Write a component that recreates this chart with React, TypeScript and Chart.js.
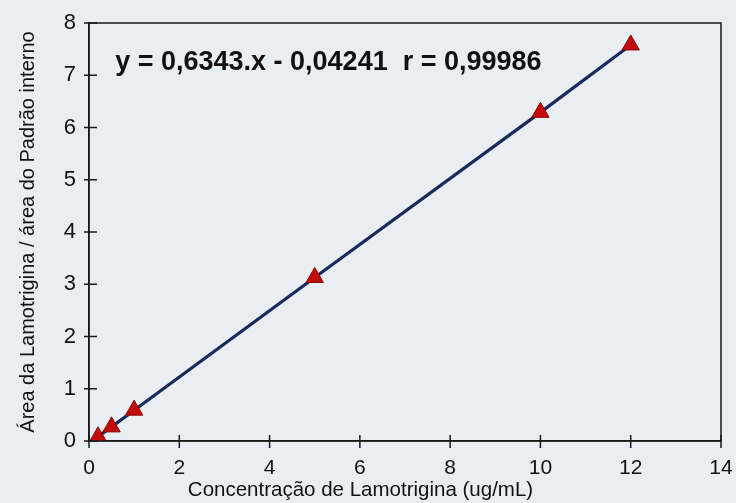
import React, { useEffect, useRef } from "react";
import { Chart, registerables } from "chart.js";

Chart.register(...registerables);

const concentrations = [0.2, 0.5, 1, 5, 10, 12];
const areaRatios = [0.08, 0.27, 0.59, 3.13, 6.29, 7.58];
const equationText = "y = 0,6343.x - 0,04241  r = 0,99986";
const xTitle = "Concentração de Lamotrigina (ug/mL)";
const yTitle = "Área da Lamotrigina / área do Padrão interno";

const FONT = "'Liberation Sans', Arial, sans-serif";
const BG = "#e9eef2";

const framePlugin = {
  id: "frame",
  beforeDraw(chart: any) {
    const { ctx, width, height } = chart;
    ctx.save();
    ctx.fillStyle = BG;
    ctx.fillRect(0, 0, width, height);
    ctx.restore();
  },
  afterDraw(chart: any) {
    const { ctx, chartArea } = chart;
    const xs = chart.scales.x;
    const ys = chart.scales.y;
    ctx.save();
    ctx.strokeStyle = "#1a1a1a";
    ctx.lineWidth = 1.5;
    ctx.strokeRect(chartArea.left, chartArea.top, chartArea.right - chartArea.left, chartArea.bottom - chartArea.top);
    ctx.beginPath();
    xs.ticks.forEach((t: any) => {
      const px = xs.getPixelForValue(t.value);
      ctx.moveTo(px, chartArea.bottom - 6);
      ctx.lineTo(px, chartArea.bottom + 7);
    });
    ys.ticks.forEach((t: any) => {
      const py = ys.getPixelForValue(t.value);
      ctx.moveTo(chartArea.left - 5, py);
      ctx.lineTo(chartArea.left + 8, py);
    });
    ctx.stroke();
    ctx.fillStyle = "#111";
    ctx.font = `bold 27px ${FONT}`;
    ctx.textBaseline = "middle";
    ctx.textAlign = "left";
    ctx.fillText(equationText, xs.getPixelForValue(0.58), ys.getPixelForValue(7.25));
    ctx.restore();
  },
};

export default function App() {
  const ref = useRef<HTMLCanvasElement | null>(null);
  useEffect(() => {
    if (!ref.current) return;
    const chart = new Chart(ref.current, {
      type: "scatter",
      data: {
        datasets: [
          {
            data: concentrations.map((c, i) => ({ x: c, y: areaRatios[i] })),
            showLine: true,
            borderColor: "#1b2a5c",
            borderWidth: 3.2,
            pointStyle: "triangle",
            pointRadius: 10,
            pointBackgroundColor: "#c30a0a",
            pointBorderColor: "#8c0808",
            pointBorderWidth: 1,
          },
        ],
      },
      options: {
        responsive: false,
        animation: false,
        layout: { padding: { left: 0, right: 15, top: 23, bottom: 0 } },
        plugins: {
          legend: { display: false },
          tooltip: { enabled: false },
          title: {
            display: true,
            position: "bottom",
            text: xTitle,
            color: "#111",
            font: { family: FONT, size: 20.5, weight: "normal" },
            padding: { top: 0, bottom: 0 },
          },
        },
        scales: {
          x: {
            type: "linear",
            min: 0,
            max: 14,
            afterFit: (s: any) => {
              s.height = 37.4;
              s.paddingRight = 0;
              s.paddingLeft = 0;
            },
            ticks: { stepSize: 2, color: "#111", font: { family: FONT, size: 21 }, padding: 15 },
            grid: { display: true, drawOnChartArea: false, drawTicks: false },
            border: { display: true, color: "#1a1a1a", width: 1.5 },
          },
          y: {
            type: "linear",
            min: 0,
            max: 8,
            afterFit: (s: any) => {
              s.width = 89;
              s.paddingTop = 0;
              s.paddingBottom = 0;
            },
            ticks: { stepSize: 1, color: "#111", font: { family: FONT, size: 22 }, padding: 13 },
            grid: { display: true, drawOnChartArea: false, drawTicks: false },
            border: { display: true, color: "#1a1a1a", width: 1.5 },
            title: {
              display: true,
              text: yTitle,
              color: "#111",
              font: { family: FONT, size: 20 },
              padding: { top: 16, bottom: 0 },
            },
          },
        },
      },
      plugins: [framePlugin],
    });
    return () => chart.destroy();
  }, []);
  return (
    <div style={{ position: "fixed", left: 0, top: 0, width: 736, height: 503, background: BG }}>
      <canvas ref={ref} width={736} height={503} style={{ display: "block" }} />
    </div>
  );
}
